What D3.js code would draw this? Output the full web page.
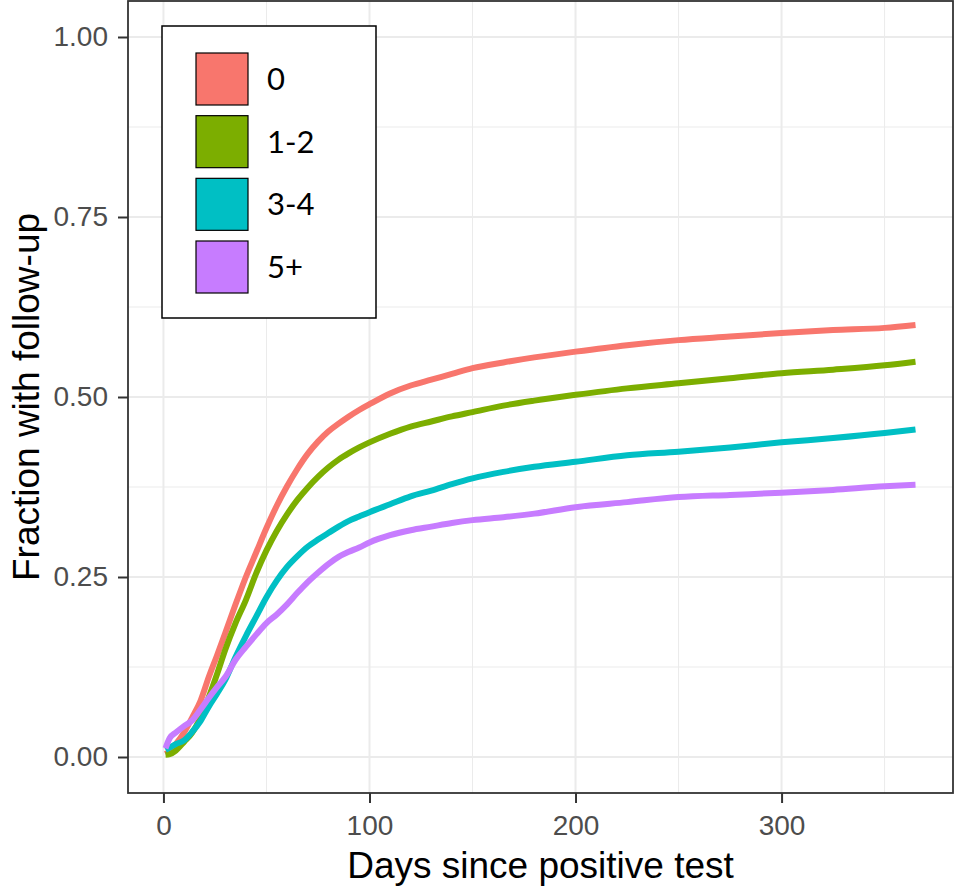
<!DOCTYPE html>
<html>
<head>
<meta charset="utf-8">
<script src="https://cdn.jsdelivr.net/npm/d3@7"></script>
<style>
  body { margin: 0; background: #fff; }
  svg { display: block; }
</style>
</head>
<body>
<svg width="954" height="886"></svg>
<script>
// groups and colours (ggplot default hues)
const groups = ['0', '1-2', '3-4', '5+'];
const colours = ['#F8766D', '#7CAE00', '#00BFC4', '#C77CFF'];

// days since positive test
const days = [1, 3, 6, 10, 14, 18, 22, 26, 30, 35, 40, 45, 50, 55, 60, 65, 70, 75, 80, 85,
  90, 95, 100, 110, 120, 130, 140, 150, 165, 180, 200, 225, 250, 275, 300, 325, 350, 365];

// fraction with follow-up
const g0 = [0.004, 0.008, 0.018, 0.034, 0.055, 0.078, 0.111, 0.141, 0.172, 0.212, 0.25,
  0.284, 0.318, 0.349, 0.376, 0.4, 0.421, 0.438, 0.452, 0.463, 0.473, 0.482, 0.49,
  0.505, 0.516, 0.524, 0.532, 0.54, 0.548, 0.555, 0.563, 0.572, 0.579, 0.584, 0.589,
  0.593, 0.596, 0.6];
const g12 = [0.003, 0.004, 0.009, 0.021, 0.034, 0.055, 0.083, 0.115, 0.149, 0.186, 0.218,
  0.255, 0.287, 0.314, 0.337, 0.357, 0.374, 0.389, 0.402, 0.413, 0.422, 0.43, 0.437,
  0.449, 0.459, 0.466, 0.473, 0.479, 0.488, 0.495, 0.503, 0.512, 0.519, 0.526, 0.533,
  0.538, 0.544, 0.549];
const g34 = [0.01, 0.013, 0.018, 0.023, 0.035, 0.05, 0.07, 0.088, 0.107, 0.139, 0.168,
  0.195, 0.222, 0.245, 0.264, 0.279, 0.292, 0.302, 0.311, 0.32, 0.328, 0.334, 0.34,
  0.351, 0.362, 0.37, 0.379, 0.387, 0.396, 0.403, 0.41, 0.419, 0.424, 0.43, 0.437,
  0.443, 0.45, 0.455];
const g5 = [0.012, 0.026, 0.034, 0.043, 0.051, 0.066, 0.082, 0.097, 0.111, 0.135, 0.153,
  0.17, 0.186, 0.198, 0.212, 0.228, 0.243, 0.256, 0.268, 0.278, 0.285, 0.291, 0.298,
  0.308, 0.315, 0.32, 0.325, 0.329, 0.333, 0.338, 0.347, 0.354, 0.361, 0.364, 0.367,
  0.371, 0.376, 0.378];

const xTicks = [0, 100, 200, 300];
const yTicks = [0, 0.25, 0.5, 0.75, 1];
const xMinor = [50, 150, 250, 350];
const yMinor = [0.125, 0.375, 0.625, 0.875];

const series = [g0, g12, g34, g5];

let svg = d3.select('svg');
const pLeft = 128, pRight = 953, pTop = 1, pBottom = 793;

let x = d3.scaleLinear().domain([-17.2, 383.2]).range([pLeft, pRight]);
let y = d3.scaleLinear().domain([-0.05, 1.05]).range([pBottom, pTop]);

// panel grid
let grid = svg.append('g');
grid.selectAll('.ymin').data(yMinor).enter().append('line')
  .attr('x1', pLeft).attr('x2', pRight)
  .attr('y1', d => y(d)).attr('y2', d => y(d))
  .attr('stroke', '#ebebeb').attr('stroke-width', 1);
grid.selectAll('.xmin').data(xMinor).enter().append('line')
  .attr('y1', pTop).attr('y2', pBottom)
  .attr('x1', d => x(d)).attr('x2', d => x(d))
  .attr('stroke', '#ebebeb').attr('stroke-width', 1);
grid.selectAll('.ymaj').data(yTicks).enter().append('line')
  .attr('x1', pLeft).attr('x2', pRight)
  .attr('y1', d => y(d)).attr('y2', d => y(d))
  .attr('stroke', '#ebebeb').attr('stroke-width', 2);
grid.selectAll('.xmaj').data(xTicks).enter().append('line')
  .attr('y1', pTop).attr('y2', pBottom)
  .attr('x1', d => x(d)).attr('x2', d => x(d))
  .attr('stroke', '#ebebeb').attr('stroke-width', 2);

// lines
let line = d3.line()
  .x((d, i) => x(days[i]))
  .y(d => y(d))
  .curve(d3.curveMonotoneX);

svg.append('g').selectAll('path')
  .data(series)
  .enter().append('path')
    .attr('d', line)
    .attr('fill', 'none')
    .attr('stroke', (d, i) => colours[i])
    .attr('stroke-width', 6)
    .attr('stroke-linejoin', 'round');

// panel border
svg.append('rect')
  .attr('x', pLeft).attr('y', pTop)
  .attr('width', pRight - pLeft).attr('height', pBottom - pTop)
  .attr('fill', 'none').attr('stroke', '#333').attr('stroke-width', 1.8);

// axes
let xAxis = svg.append('g')
  .attr('transform', 'translate(0,' + pBottom + ')')
  .call(d3.axisBottom(x).tickValues(xTicks).tickSize(10).tickPadding(12).tickFormat(d3.format('d')));
let yAxis = svg.append('g')
  .attr('transform', 'translate(' + pLeft + ',0)')
  .call(d3.axisLeft(y).tickValues(yTicks).tickSize(10).tickPadding(10).tickFormat(d3.format('.2f')));

[xAxis, yAxis].forEach(a => {
  a.select('.domain').remove();
  a.selectAll('line').attr('stroke', '#333').attr('stroke-width', 2);
  a.selectAll('text')
    .attr('fill', '#4d4d4d')
    .style('font-family', '"Liberation Sans", Arial, sans-serif')
    .style('font-size', '28px');
});

// titles
svg.append('text')
  .attr('x', (pLeft + pRight) / 2).attr('y', 878)
  .attr('text-anchor', 'middle')
  .style('font-family', '"Liberation Sans", Arial, sans-serif')
  .style('font-size', '37px')
  .text('Days since positive test');

svg.append('text')
  .attr('transform', 'translate(39,' + ((pTop + pBottom) / 2) + ') rotate(-90)')
  .attr('text-anchor', 'middle')
  .style('font-family', '"Liberation Sans", Arial, sans-serif')
  .style('font-size', '37px')
  .text('Fraction with follow-up');

// legend
let legend = svg.append('g');
legend.append('rect')
  .attr('x', 162).attr('y', 26).attr('width', 214).attr('height', 292)
  .attr('fill', '#fff').attr('stroke', '#000').attr('stroke-width', 1.5);

let keyY = d3.scalePoint().domain(groups).range([53, 241]);

let key = legend.selectAll('.key')
  .data(groups)
  .enter().append('g')
    .attr('transform', d => 'translate(0,' + keyY(d) + ')');
key.append('rect')
  .attr('x', 196).attr('y', 0).attr('width', 52).attr('height', 52)
  .attr('fill', (d, i) => colours[i])
  .attr('stroke', '#000').attr('stroke-width', 1.2);
key.append('text')
  .attr('x', 267).attr('y', 26).attr('dy', '0.35em')
  .style('font-family', 'Lato, "Open Sans", sans-serif')
  .style('font-size', '31px')
  .text(d => d);
</script>
</body>
</html>
